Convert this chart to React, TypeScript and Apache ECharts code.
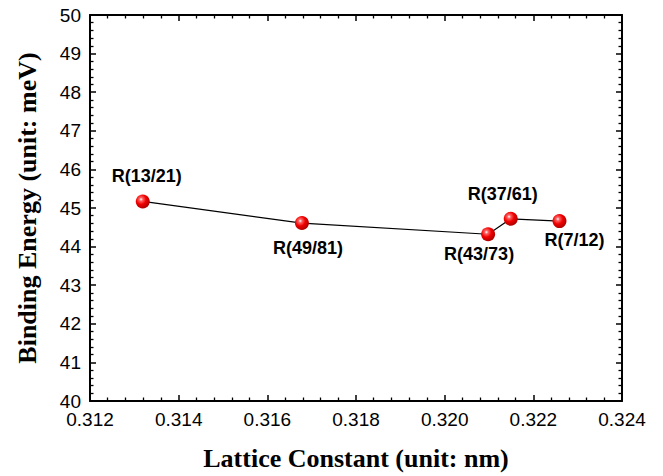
import React, { useEffect, useRef } from "react";
import * as echarts from "echarts";

const latticeConstants = [0.31319, 0.31678, 0.32098, 0.32149, 0.32259];
const bindingEnergies = [45.17, 44.61, 44.32, 44.72, 44.66];
const pointLabels = ["R(13/21)", "R(49/81)", "R(43/73)", "R(37/61)", "R(7/12)"];
const labelOffsets = [
  [4, -25],
  [6, 25],
  [-9, 20],
  [-8, -25],
  [15, 19],
];

const xTitle = "Lattice Constant (unit: nm)";
const yTitle = "Binding Energy (unit: meV)";

export default function App() {
  const ref = useRef<HTMLDivElement>(null);
  useEffect(() => {
    document.body.style.margin = "0";
    if (!ref.current) return;
    const chart = echarts.init(ref.current, null, { renderer: "svg" });
    const SYM = 14;
    const sphere = new echarts.graphic.RadialGradient(0.38, 0.35, 0.65, [
      { offset: 0, color: "#ffffff" },
      { offset: 0.2, color: "#ff6060" },
      { offset: 0.55, color: "#f00000" },
      { offset: 1, color: "#b00000" },
    ]);
    const axisCommon = {
      type: "value" as const,
      axisLine: { show: true, onZero: false, lineStyle: { color: "#000", width: 2 } },
      axisTick: { show: true, inside: true, length: 6, lineStyle: { color: "#000", width: 1.5 } },
      minorTick: { show: true, splitNumber: 5, length: 3.5, lineStyle: { color: "#000", width: 1.3 } },
      splitLine: { show: false },
      minorSplitLine: { show: false },
    };
    const xCommon = { ...axisCommon, min: 0.312, max: 0.324, interval: 0.002 };
    const yCommon = { ...axisCommon, min: 40, max: 50, interval: 1 };
    const labelFont = {
      color: "#000",
      fontFamily: "Liberation Sans, Arial, sans-serif",
      fontSize: 19,
    };
    const titleFont = {
      color: "#000",
      fontFamily: "Liberation Serif, Times New Roman, serif",
      fontWeight: "bold",
      fontSize: 26,
    };
    chart.setOption({
      animation: false,
      backgroundColor: "#fff",
      grid: { left: 90, top: 15, right: 41, bottom: 69, containLabel: false },
      xAxis: [
        {
          ...xCommon,
          position: "bottom",
          axisLabel: {
            ...labelFont,
            margin: 9,
            formatter: (v: number) => v.toFixed(3),
          },
          name: xTitle,
          nameLocation: "middle",
          nameGap: 44,
          nameTextStyle: titleFont,
        },
        { ...xCommon, position: "top", axisLabel: { show: false } },
      ],
      yAxis: [
        {
          ...yCommon,
          position: "left",
          axisLabel: { ...labelFont, margin: 9 },
          name: yTitle,
          nameLocation: "middle",
          nameGap: 50,
          nameTextStyle: titleFont,
        },
        { ...yCommon, position: "right", axisLabel: { show: false } },
      ],
      series: [
        {
          type: "line",
          xAxisIndex: 0,
          yAxisIndex: 0,
          symbol: "circle",
          symbolSize: SYM,
          lineStyle: { color: "#000", width: 1.2 },
          itemStyle: { color: sphere, borderWidth: 0 },
          data: latticeConstants.map((x, i) => ({
            value: [x, bindingEnergies[i]],
            label: {
              show: true,
              formatter: pointLabels[i],
              position: [SYM / 2 + labelOffsets[i][0], SYM / 2 + labelOffsets[i][1]],
              align: "center",
              verticalAlign: "middle",
              color: "#000",
              fontFamily: "Liberation Sans, Arial, sans-serif",
              fontWeight: "bold",
              fontSize: 18,
            },
          })),
        },
      ],
    });
    return () => chart.dispose();
  }, []);
  return <div ref={ref} style={{ width: 663, height: 476 }} />;
}
